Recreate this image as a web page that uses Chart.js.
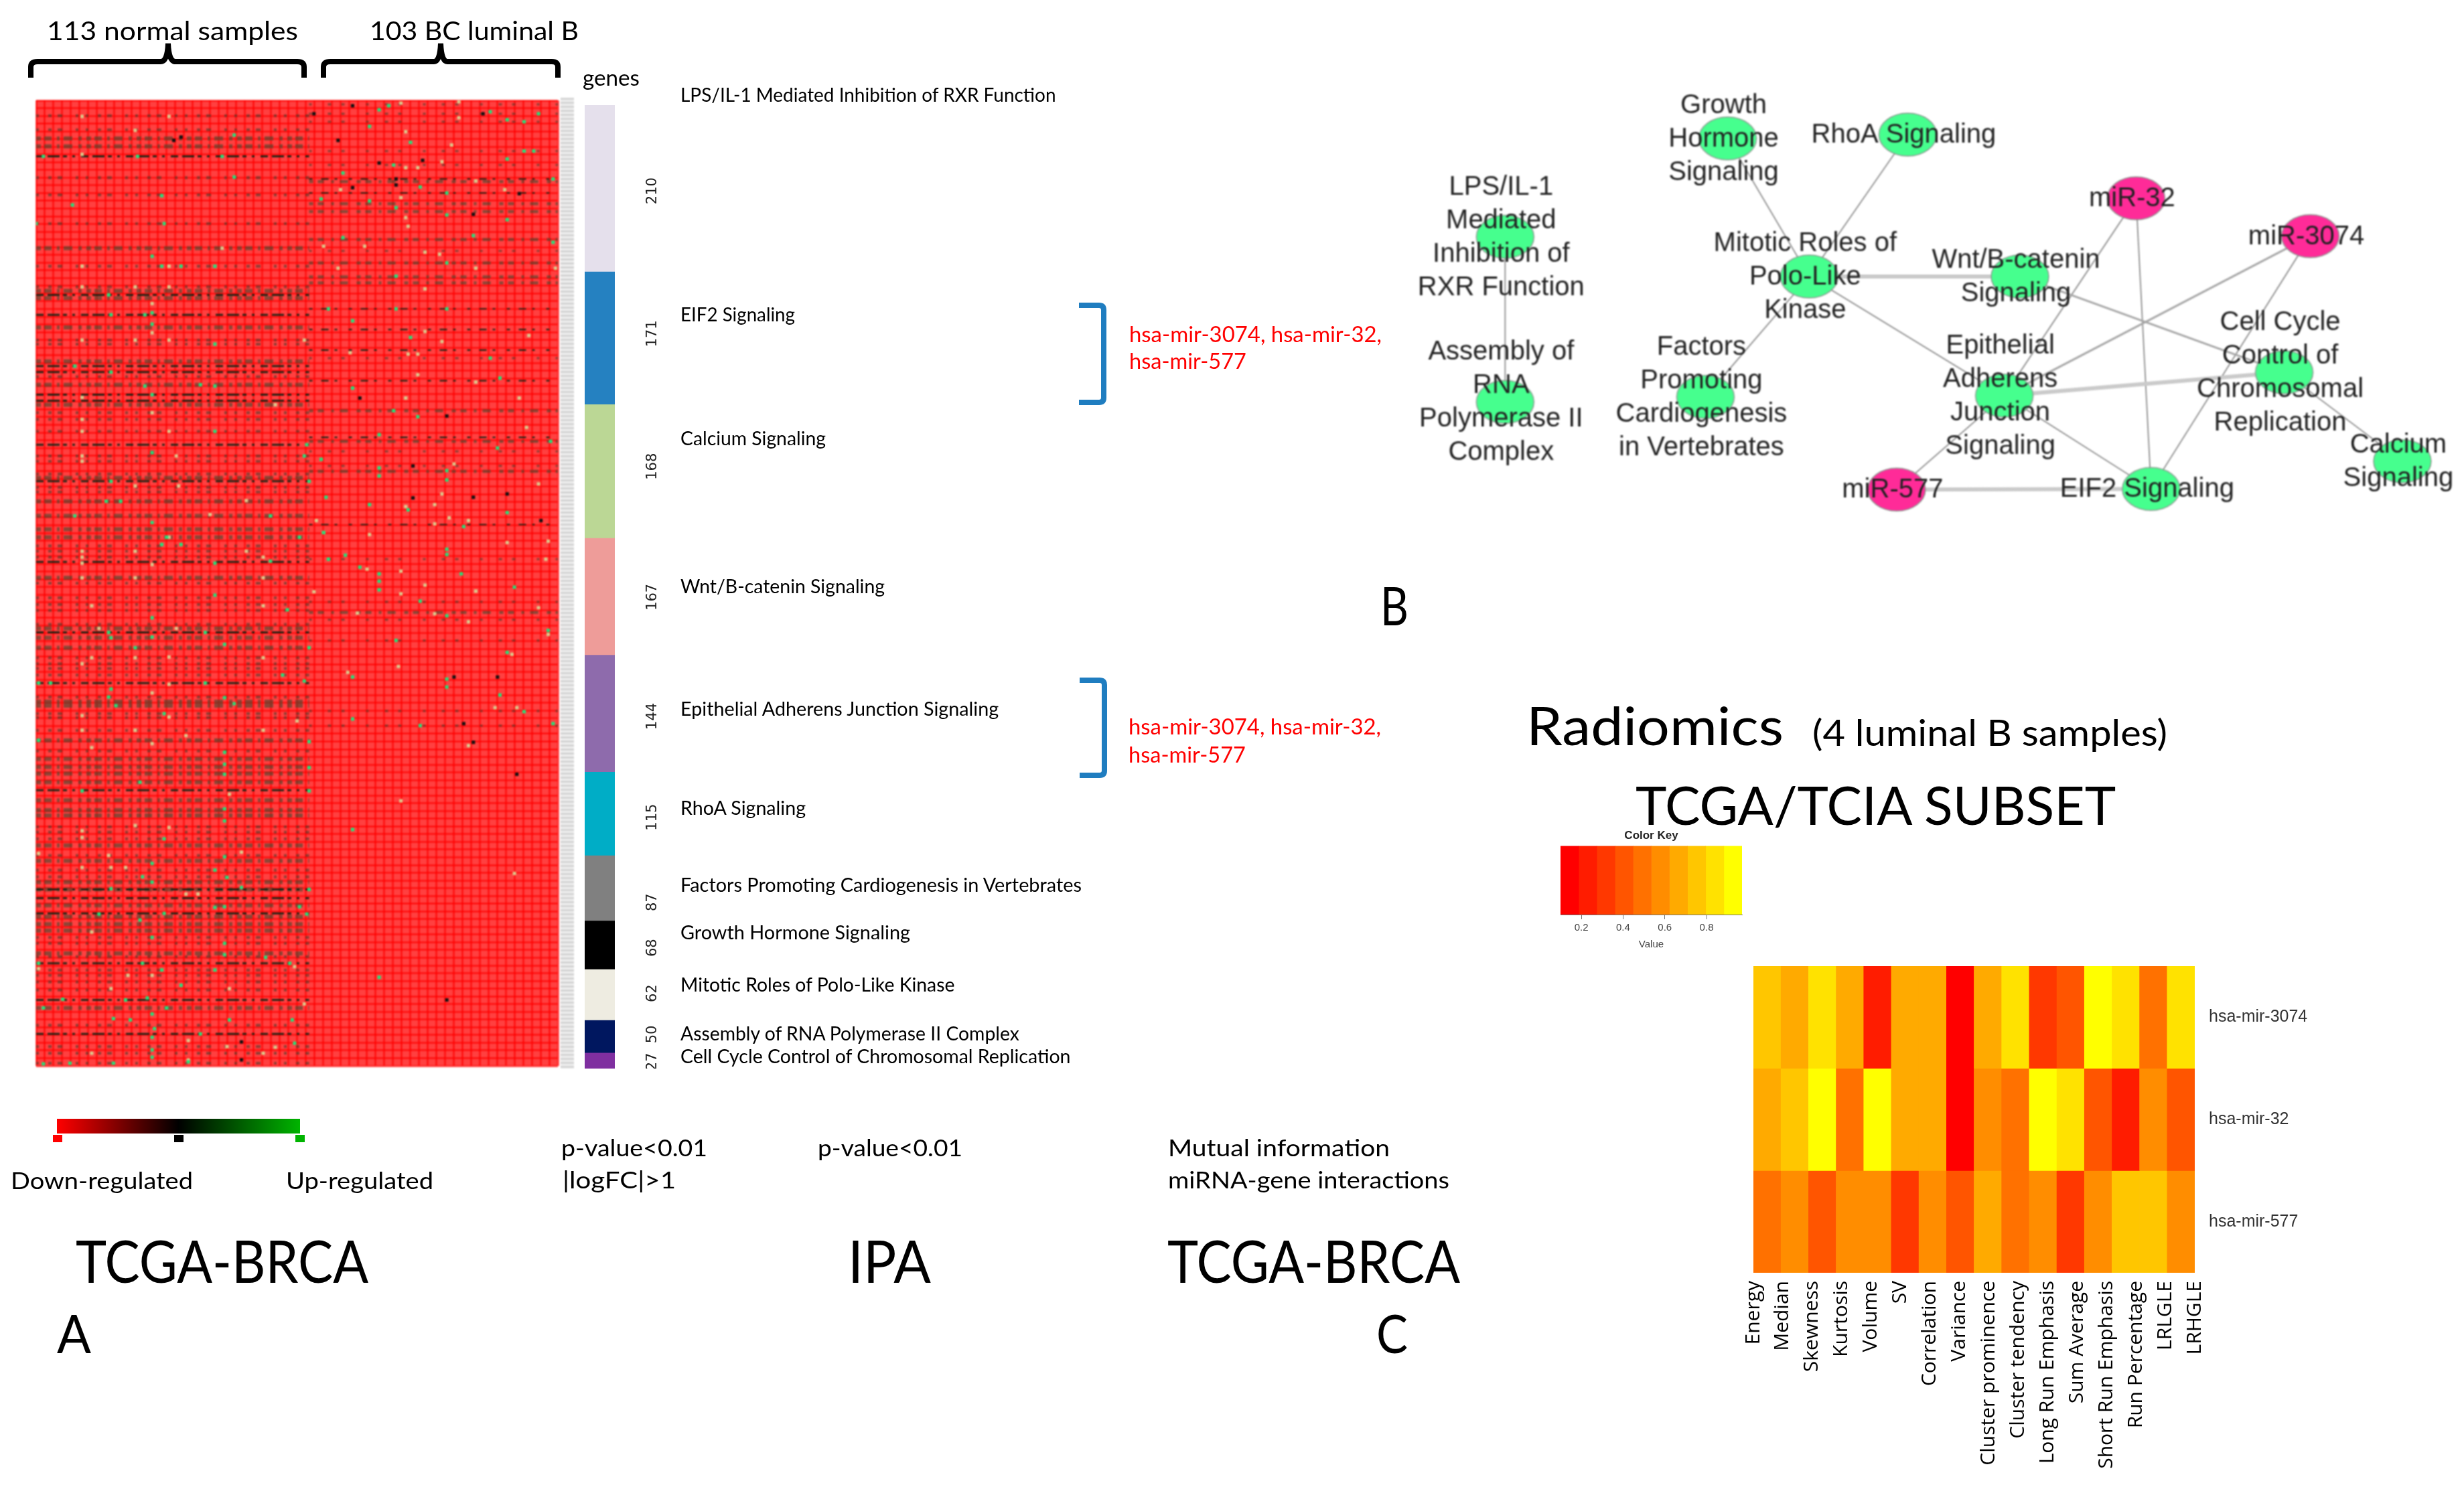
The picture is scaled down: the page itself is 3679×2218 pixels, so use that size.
<!DOCTYPE html>
<html>
<head>
<meta charset="utf-8">
<script src="https://cdn.jsdelivr.net/npm/chart.js@4"></script>
<style>
  body { margin: 0; background: #fff; }
  #page { position: relative; width: 3679px; height: 2218px; overflow: hidden; background: #fff; }
  #page canvas { position: absolute; }
  .cap { position: absolute; white-space: nowrap; transform-origin: left center; font-family: Lato, sans-serif; color: #000; }
</style>
</head>
<body>
<div id="page">
<svg width="3679" height="2218" style="position:absolute;left:0;top:0">
  <defs>
    <linearGradient id="regGrad"><stop offset="0" stop-color="#ff0000"/><stop offset="0.5" stop-color="#000"/><stop offset="1" stop-color="#00b400"/></linearGradient>
  </defs>
  <g fill="none" stroke="#000" stroke-width="8">
    <path d="M46,116 L46,100 Q46,92 56,92 L240,92 Q250,92 251,65 Q252,92 262,92 L444,92 Q454,92 454,100 L454,116"/>
    <path d="M483,116 L483,100 Q483,92 493,92 L648,92 Q657,92 658,65 Q659,92 668,92 L824,92 Q833,92 833,100 L833,116"/>
  </g>
  <g fill="none" stroke="#1f7dc0" stroke-width="8">
    <path d="M1611,456 L1641,456 Q1648,456 1648,463 L1648,594 Q1648,601 1641,601 L1611,601"/>
    <path d="M1612,1016 L1642,1016 Q1649,1016 1649,1023 L1649,1151 Q1649,1158 1642,1158 L1612,1158"/>
  </g>
  <rect x="85" y="1671" width="363" height="22" fill="url(#regGrad)"/>
  <rect x="79" y="1695" width="14" height="11" fill="#ff0000"/>
  <rect x="260" y="1695" width="14" height="11" fill="#000"/>
  <rect x="441" y="1695" width="14" height="11" fill="#00b400"/>
</svg>
<div style="position:absolute;left:837px;top:146px;width:20px;height:1450px;background:repeating-linear-gradient(#d4d4d4 0 3px,#efefef 3px 6px);filter:blur(1px)"></div>
</div>
<script>
// ---- panel A: expression heatmap ----
// rows are positions down the heatmap, samples are columns (0-113 normal, 113-216 luminal B)
var normalCrispRows = [84,292,322,399,408,442,451,517,572,693,799,875,1036,1185,1198,1221,1296,1351,1402];
var normalDimRows = [57,69,222,286,297,341,392,427,457,567,602,624,644,656,717,793,807,822,903,909,961,989,1001,1011,1024,1051,1066,1074,1119,1142,1174,1185,1209,1226,1237,1247,1281,1363];
var normalSparseRows = [23,44,116,142,185,249,280,360,366,415,469,479,497,534,542,561,581,588,669,677,686,725,747,757,766,787,837,846,853,863,896,921,927,946,977,1091,1099,1109,1134,1156,1166,1257,1266,1286,1306,1314,1324,1336,1389,1421,1431,1446];
var lumbCrispRows = [118,139,313,344,375,421,506,637];
var lumbDimRows = [122,155,167,209,244,265,274,466,512,557,769];
var lumbSparseRows = [6,20,32,76,97,226,387,527,549,689,753,780,811,917,939];

var beigeCells = [[19,24],[55,24],[41,45],[19,81],[77,222],[19,249],[55,249],[19,280],[41,280],[55,280],[48,305],[19,360],[41,360],[55,360],[111,360],[48,349],[19,446],[48,469],[19,479],[99,457],
  [175,2],[151,4],[153,47],[175,26],[172,67],[168,92],[158,101],[153,101],[182,121],[151,146],[126,134],[194,134],[153,176],[154,189],[136,219],[119,219],[161,228],[167,231],[161,283],[182,252],[125,252],[215,252],[168,362],[153,447],[200,447],[158,412],[182,423],[161,347],[204,353],[154,381],[158,381],[130,379],
  [19,497],[55,497],[19,534],[58,534],[19,542],[41,579],[59,579],[87,601],[72,622],[55,656],[19,677],[87,677],[41,677],[19,686],[94,686],[19,695],[48,697],[19,717],[41,717],[94,717],[23,759],[94,759],[26,793],[58,793],[41,837],[55,836],[23,837],[94,837],[19,846],[55,877],[48,890],[19,924],[55,926],[108,932],[19,946],[41,946],[94,946],[48,966],[62,954],
  [203,491],[168,591],[171,627],[179,631],[165,636],[138,652],[119,649],[165,607],[153,610],[116,631],[208,576],[195,664],[212,662],[211,689],[137,704],[151,707],[161,728],[182,737],[115,738],[151,741],[133,770],[165,771],[179,783],[208,762],[212,802],[197,832],[150,850],[129,859],[179,969],[199,912],[190,912],[173,546],
  [23,972],[151,1052],[198,1161],[19,1097],[41,1089],[55,1092],[19,1107],[80,1042],[38,1314],[48,1314],[79,1421],[23,1431],[94,1431],[31,1334],[1,1304],[107,1301],[111,1357],[23,1249],[62,1192],[67,1192],[85,1129],[30,1134],[19,1152],[31,1152],[37,1152],[1,1131],[80,1334],[99,1422],[63,1412],[63,1441]];

var greenCells = [[82,52],[82,115],[15,157],[52,143],[42,84],[77,84],[3,84],[31,322],[45,322],[48,336],[48,319],[74,366],[31,408],[16,399],[45,429],[74,429],[68,427],[48,442],[30,292],[52,249],[60,249],[74,249],[53,185],[0,185],[48,234],
  [146,8],[142,14],[188,17],[195,29],[202,32],[208,20],[138,39],[155,63],[202,76],[206,76],[195,88],[148,97],[127,109],[214,118],[159,130],[118,148],[138,151],[170,139],[195,179],[170,172],[149,161],[181,203],[127,206],[170,244],[214,213],[149,264],[121,313],[149,313],[170,313],[131,331],[155,356],[188,387],[192,417],[131,432],[148,466],[158,475],
  [74,497],[112,517],[48,529],[111,534],[31,572],[113,572],[29,602],[35,602],[16,624],[48,634],[97,624],[54,656],[109,656],[52,667],[60,667],[74,695],[97,692],[74,743],[104,765],[48,777],[30,799],[70,799],[31,807],[48,806],[78,817],[41,822],[113,822],[1,875],[6,875],[70,875],[111,872],[102,863],[31,884],[30,896],[78,897],[82,906],[33,909],[53,921],[1,961],[113,963],
  [142,502],[213,512],[191,522],[118,539],[142,552],[170,556],[170,570],[120,596],[142,564],[138,607],[154,615],[195,619],[177,640],[119,649],[170,674],[170,682],[128,683],[121,689],[134,701],[142,711],[176,711],[142,722],[142,735],[198,731],[159,752],[170,774],[212,796],[149,811],[195,829],[131,866],[170,869],[170,881],[192,893],[202,918],[131,929],[159,939],[214,936],
  [78,979],[78,997],[113,1002],[78,1012],[43,1024],[113,1037],[19,1037],[31,1184],[78,1064],[78,1082],[53,1109],[78,1136],[74,1156],[48,1146],[79,1167],[44,1166],[48,1174],[113,1185],[85,1182],[74,1212],[78,1211],[109,1211],[112,1222],[53,1221],[26,1222],[43,1231],[48,1257],[78,1266],[78,1283],[95,1287],[1,1296],[44,1296],[105,1296],[74,1306],[52,1306],[60,1329],[11,1350],[37,1351],[46,1348],[3,1363],[54,1363],[48,1372],[32,1379],[39,1381],[106,1381],[80,1381],[49,1394],[48,1407],[68,1402],[107,1416],[48,1426],[48,1437],[32,1446],[3,1447],[14,1446],[63,1444],[142,1317],[131,1095]];

var blackCells = [[131,8],[185,20],[142,94],[149,118],[149,127],[131,131],[181,171],[170,1351],[199,1012],[156,549],[181,596],[195,591],[209,631],[191,866],[173,866],[156,597],[181,964],[177,936],[170,474],[134,447],[85,1414],[85,1441],[48,529],[60,55],[57,60],[115,20],[125,60],[160,90],[200,140]];

// ---- gene module side bar ----
var geneCounts = [210,171,168,167,144,115,87,68,62,50,27];
var moduleExtents = [219,175,176,154,154,110,86,64,67,43,21];
var countLabelRows = [113,301,476,648,805,938,1050,1110,1170,1224,1260];
var moduleColors = ['#e5e0ec','#2581c1','#bbd795','#ee9c99','#8e6bac','#00adc6','#808080','#000000','#eeece1','#00175f','#7f2fa0'];
var pathwayNames = ['LPS/IL-1 Mediated Inhibition of RXR Function','EIF2 Signaling','Calcium Signaling','Wnt/B-catenin Signaling','Epithelial Adherens Junction Signaling','RhoA Signaling','Factors Promoting Cardiogenesis in Vertebrates','Growth Hormone Signaling','Mitotic Roles of Polo-Like Kinase','Assembly of RNA Polymerase II Complex','Cell Cycle Control of Chromosomal Replication'];

// ---- panel B: miRNA / pathway network ----
var nodeLabels = [
  ['LPS/IL-1','Mediated','Inhibition of','RXR Function'],
  ['Assembly of','RNA','Polymerase II','Complex'],
  ['Growth','Hormone','Signaling'],
  ['RhoA Signaling'],
  ['Mitotic Roles of','Polo-Like','Kinase'],
  ['Wnt/B-catenin','Signaling'],
  ['Factors','Promoting','Cardiogenesis','in Vertebrates'],
  ['Epithelial','Adherens','Junction','Signaling'],
  ['Cell Cycle','Control of','Chromosomal','Replication'],
  ['Calcium','Signaling'],
  ['EIF2 Signaling'],
  ['miR-32'],
  ['miR-3074'],
  ['miR-577']
];
var nodeX = [181,181,522,798,647,970,488,946,1375,1556,1171,1148,1415,781];
var nodeY = [247,509,91,85,310,310,501,499,462,603,647,186,246,648];
var mirnaNodes = [11,12,13];
var edgeFrom = [0,2,3,4,4,4,5,7,7,7,7,7,11,12,13,8];
var edgeTo   = [1,4,4,5,6,7,8,11,12,8,13,10,10,10,10,9];
var edgeWeight = [1,1,1,3,1,1,2,1,2,3,1,1,1,1,3,1];

// ---- panel C: radiomic features vs miRNA ----
var featureNames = ['Energy','Median','Skewness','Kurtosis','Volume','SV','Correlation','Variance','Cluster prominence','Cluster tendency','Long Run Emphasis','Sum Average','Short Run Emphasis','Run Percentage','LRLGLE','LRHGLE'];
var mirnaNames = ['hsa-mir-3074','hsa-mir-32','hsa-mir-577'];
var mir3074Values = [0.75,0.67,0.84,0.67,0.23,0.67,0.67,0.14,0.67,0.84,0.32,0.41,0.93,0.84,0.49,0.84];
var mir32Values   = [0.67,0.75,0.93,0.49,0.93,0.67,0.67,0.14,0.58,0.49,0.93,0.84,0.41,0.23,0.58,0.41];
var mir577Values  = [0.49,0.58,0.41,0.58,0.58,0.32,0.58,0.41,0.67,0.49,0.58,0.32,0.58,0.75,0.75,0.58];
var keyEdges = [0.1,0.187,0.274,0.361,0.448,0.535,0.622,0.709,0.796,0.883,0.97];
var keyColors = ['#ff0000','#ff1c00','#ff3800','#ff5500','#ff7100','#ff8d00','#ffaa00','#ffc600','#ffe200','#ffff00'];
var keyTicks = [0.2,0.4,0.6,0.8];

// text that sits on the page: text, x, centre y, font size, width
var captions = [
  ['113 normal samples',70,45,39,375],['103 BC luminal B',552,45,39,312],['genes',870,115,33,85],
  [pathwayNames[0],1016,141,28,561],[pathwayNames[1],1016,469,28,171],[pathwayNames[2],1016,654,28,217],[pathwayNames[3],1016,875,28,305],
  [pathwayNames[4],1016,1058,28,477],[pathwayNames[5],1016,1206,28,188],[pathwayNames[6],1016,1321,28,600],[pathwayNames[7],1016,1392,28,343],
  [pathwayNames[8],1016,1470,28,410],[pathwayNames[9],1016,1543,28,508],[pathwayNames[10],1016,1577,28,583],
  ['Down-regulated',16,1763,34,272],['Up-regulated',427,1763,34,220],
  ['p-value<0.01',838,1714,34,218],['|logFC|>1',840,1762,34,169],['p-value<0.01',1221,1714,34,216],
  ['Mutual information',1744,1714,34,331],['miRNA-gene interactions',1744,1762,34,420],
  ['TCGA-BRCA',113,1882,88,437],['IPA',1266,1882,88,124],['TCGA-BRCA',1743,1882,88,437],
  ['A',85,1990,80,51],['C',2055,1990,80,47],['B',2061,903,80,42],
  ['Radiomics',2279,1082,79,384],['(4 luminal B samples)',2706,1093,55,530],['TCGA/TCIA SUBSET',2442,1201,79,720]
];
var redCaptions = [
  ['hsa-mir-3074, hsa-mir-32,',1686,499,32,377],['hsa-mir-577',1686,539,32,175],
  ['hsa-mir-3074, hsa-mir-32,',1685,1085,32,377],['hsa-mir-577',1685,1127,32,175]
];

var page = document.getElementById('page');
Chart.defaults.animation = false;
Chart.defaults.responsive = false;
Chart.defaults.devicePixelRatio = 1;
Chart.defaults.plugins.legend.display = false;
Chart.defaults.plugins.tooltip.enabled = false;

function addCanvas(x, y, w, h, blur) {
  var c = document.createElement('canvas');
  c.width = w; c.height = h;
  c.style.left = x + 'px'; c.style.top = y + 'px';
  c.style.width = w + 'px'; c.style.height = h + 'px';
  if (blur) c.style.filter = 'blur(' + blur + 'px)';
  page.appendChild(c);
  return c.getContext('2d');
}

// captions are squeezed to the measured width because the source font is narrower than Lato
var measure = document.createElement('canvas').getContext('2d');
function addCaption(item, color) {
  var d = document.createElement('div');
  d.className = 'cap';
  d.textContent = item[0];
  d.style.left = item[1] + 'px';
  d.style.top = (item[2] - item[3] / 2) + 'px';
  d.style.fontSize = item[3] + 'px';
  d.style.lineHeight = item[3] + 'px';
  if (color) d.style.color = color;
  measure.font = item[3] + 'px Lato';
  d.style.transform = 'scaleX(' + (item[4] / measure.measureText(item[0]).width) + ')';
  page.appendChild(d);
}
captions.forEach(function(c) { addCaption(c); });
redCaptions.forEach(function(c) { addCaption(c, '#ff0000'); });

// ---- heatmap ----
function bandData(rows, from, to) {
  var out = [];
  rows.forEach(function(r) {
    out.push({x: from, y: r}, {x: to, y: r}, {x: NaN, y: NaN});
  });
  return out;
}
function bandSet(rows, from, to, color, width, dash) {
  return {data: bandData(rows, from, to), showLine: true, spanGaps: false, pointRadius: 0, borderColor: color, borderWidth: width, borderDash: dash};
}
function cellSet(cells, color) {
  return {data: cells.map(function(c) { return {x: c[0], y: c[1]}; }), pointStyle: 'rect', pointRadius: 3.6, backgroundColor: color, borderWidth: 0};
}
var crispColor = 'rgba(15,35,20,0.9)', dimColor = 'rgba(70,75,50,0.62)', sparseColor = 'rgba(75,60,45,0.6)';
var crispDash = [11,6,18,5,6,8,4,9], dimDash = [7,5,11,8,4,6,13,9,5,7], sparseDash = [4,14,5,9,7,20,4,11];

new Chart(addCanvas(50, 146, 787, 1450, 0.9), {
  type: 'scatter',
  data: {datasets: [
    cellSet(greenCells, '#25e07a'),
    cellSet(beigeCells, '#dcc98c'),
    cellSet(blackCells, '#111111'),
    bandSet(normalCrispRows, 0, 113, crispColor, 3, crispDash),
    bandSet(lumbCrispRows, 113, 216, crispColor, 2.2, [5,13,11,9,4,17]),
    bandSet(normalDimRows, 0, 113, dimColor, 6, dimDash),
    bandSet(lumbDimRows, 113, 216, dimColor, 4.5, [6,7,9,11,4,9,12,13]),
    bandSet(normalSparseRows, 0, 113, sparseColor, 4.2, sparseDash),
    bandSet(lumbSparseRows, 113, 216, sparseColor, 3.2, [4,24,5,15,5,32])
  ]},
  options: {
    layout: {padding: 0},
    scales: {
      x: {min: 0, max: 216, border: {display: false}, ticks: {display: false, stepSize: 3.6, autoSkip: false},
          grid: {color: 'rgba(255,0,0,0.65)', lineWidth: 3, drawTicks: false}, afterFit: function(s) { s.height = 0; }},
      y: {min: 0, max: 1450, reverse: true, border: {display: false}, ticks: {display: false, stepSize: 11.6, autoSkip: false},
          grid: {color: 'rgba(255,0,0,0.65)', lineWidth: 3, drawTicks: false}, afterFit: function(s) { s.width = 0; }}
    }
  },
  plugins: [{id: 'heatBack', beforeDraw: function(chart) {
    var a = chart.chartArea;
    chart.ctx.fillStyle = '#ff4040';
    chart.ctx.fillRect(a.left, a.top, a.width, a.height);
  }}]
});

// ---- side bar with gene counts ----
new Chart(addCanvas(873, 157, 127, 1439), {
  type: 'bar',
  data: {labels: ['genes'], datasets: moduleExtents.map(function(v, i) {
    return {data: [v], backgroundColor: moduleColors[i], barPercentage: 1, categoryPercentage: 1, borderWidth: 0};
  })},
  options: {
    layout: {padding: {right: 82}},
    scales: {
      x: {stacked: true, display: false},
      y: {stacked: true, display: false, reverse: true, min: 0, max: 1269}
    }
  },
  plugins: [{id: 'countLabels', afterDatasetsDraw: function(chart) {
    var ctx = chart.ctx;
    ctx.save();
    ctx.font = '21px "DejaVu Sans"';
    ctx.fillStyle = '#222';
    ctx.textAlign = 'center';
    ctx.textBaseline = 'middle';
    geneCounts.forEach(function(n, i) {
      ctx.save();
      ctx.translate(102, chart.scales.y.getPixelForValue(countLabelRows[i]));
      ctx.rotate(-Math.PI / 2);
      ctx.fillText(String(n), 0, 0);
      ctx.restore();
    });
    ctx.restore();
  }}]
});

// ---- network ----
function ellipseSprite(fill) {
  var c = document.createElement('canvas');
  c.width = 90; c.height = 68;
  var x = c.getContext('2d');
  x.beginPath();
  x.ellipse(45, 34, 43, 32, 0, 0, Math.PI * 2);
  x.fillStyle = fill;
  x.fill();
  x.lineWidth = 1.5;
  x.strokeStyle = '#8a9a8f';
  x.stroke();
  return c;
}
var greenNode = ellipseSprite('#46ff8e'), pinkNode = ellipseSprite('#ff2b98');
var netSets = [{
  data: nodeX.map(function(x, i) { return {x: x, y: nodeY[i]}; }),
  pointStyle: nodeX.map(function(x, i) { return mirnaNodes.indexOf(i) >= 0 ? pinkNode : greenNode; }),
  pointRadius: 20
}];
edgeFrom.forEach(function(a, i) {
  var b = edgeTo[i], w = edgeWeight[i];
  netSets.push({
    data: [{x: nodeX[a], y: nodeY[a]}, {x: nodeX[b], y: nodeY[b]}],
    showLine: true, pointRadius: 0,
    borderColor: w == 1 ? '#979797' : (w == 2 ? '#a8a8a8' : '#cacaca'),
    borderWidth: w == 1 ? 2 : (w == 2 ? 3 : 6)
  });
});
new Chart(addCanvas(2050, 100, 1629, 720, 0.8), {
  type: 'scatter',
  data: {datasets: netSets},
  options: {
    layout: {padding: 0},
    scales: {
      x: {display: false, min: 0, max: 1629},
      y: {display: false, min: 0, max: 720, reverse: true}
    }
  },
  plugins: [{id: 'nodeText', afterDatasetsDraw: function(chart) {
    var ctx = chart.ctx, xs = chart.scales.x, ys = chart.scales.y;
    ctx.save();
    ctx.font = '40px "Liberation Sans"';
    ctx.fillStyle = '#222222';
    ctx.textAlign = 'center';
    ctx.textBaseline = 'middle';
    nodeLabels.forEach(function(lines, i) {
      var top = ys.getPixelForValue(nodeY[i]) + 1 - (lines.length - 1) * 25;
      lines.forEach(function(t, k) {
        ctx.fillText(t, xs.getPixelForValue(nodeX[i]) - 6, top + k * 50);
      });
    });
    ctx.restore();
  }}]
});

// ---- radiomics heatmap, bars stacked as cells ----
function keyColor(v) {
  for (var i = 0; i < keyColors.length; i++) {
    if (v < keyEdges[i + 1]) return keyColors[i];
  }
  return keyColors[keyColors.length - 1];
}
function rowSet(values) {
  return {
    xAxisID: 'x', yAxisID: 'y',
    data: values.map(function() { return 1; }),
    backgroundColor: values.map(keyColor),
    barPercentage: 1, categoryPercentage: 1, borderWidth: 0
  };
}
function noPadding(s) {
  s.paddingLeft = 0; s.paddingRight = 0; s.paddingTop = 0; s.paddingBottom = 0;
}
new Chart(addCanvas(2578, 1443, 1101, 775), {
  type: 'bar',
  data: {labels: featureNames, datasets: [rowSet(mir3074Values), rowSet(mir32Values), rowSet(mir577Values)]},
  options: {
    layout: {padding: {left: 40}},
    scales: {
      x: {stacked: true, display: false},
      names: {
        type: 'category', labels: featureNames, position: 'bottom', offset: false,
        border: {display: false}, grid: {display: false, drawTicks: false},
        ticks: {autoSkip: false, minRotation: 90, maxRotation: 90, padding: 12, color: '#000', font: {family: 'Open Sans', size: 30}},
        afterFit: function(s) { s.height = 317; noPadding(s); }
      },
      y: {
        stacked: true, position: 'right', reverse: true, min: 0, max: 3,
        border: {display: false}, grid: {display: false, drawTicks: false},
        afterBuildTicks: function(axis) { axis.ticks = mirnaNames.map(function(n, i) { return {value: i + 0.5}; }); },
        ticks: {padding: 21, color: '#333', font: {family: 'Liberation Sans', size: 25},
          callback: function(v, i) { return mirnaNames[i]; }},
        afterFit: function(s) { s.width = 402; noPadding(s); }
      }
    }
  }
});

// ---- color key ----
new Chart(addCanvas(2300, 1230, 340, 190), {
  type: 'bar',
  data: {labels: ['key'], datasets: keyColors.map(function(col, i) {
    return {data: [[keyEdges[i], keyEdges[i + 1]]], backgroundColor: col, barPercentage: 1, categoryPercentage: 1, borderWidth: 0, grouped: false};
  })},
  options: {
    indexAxis: 'y',
    layout: {padding: {left: 30, right: 39}},
    plugins: {title: {display: true, text: 'Color Key', color: '#222', font: {family: 'Liberation Sans', size: 17, weight: 'bold', lineHeight: 1.2}, padding: {top: 8, bottom: 5}}},
    scales: {
      y: {display: false},
      x: {
        min: 0.1, max: 0.97,
        border: {display: true, color: '#777'},
        grid: {drawOnChartArea: false, color: '#777', tickLength: 7},
        afterBuildTicks: function(axis) { axis.ticks = keyTicks.map(function(v) { return {value: v}; }); },
        ticks: {color: '#444', font: {family: 'Liberation Sans', size: 15}, padding: 4, maxRotation: 0,
          callback: function(v) { return v.toFixed(1); }},
        title: {display: true, text: 'Value', color: '#444', font: {family: 'Liberation Sans', size: 15}, padding: 0},
        afterFit: function(s) { s.height = 54; }
      }
    }
  }
});
</script>
</body>
</html>
